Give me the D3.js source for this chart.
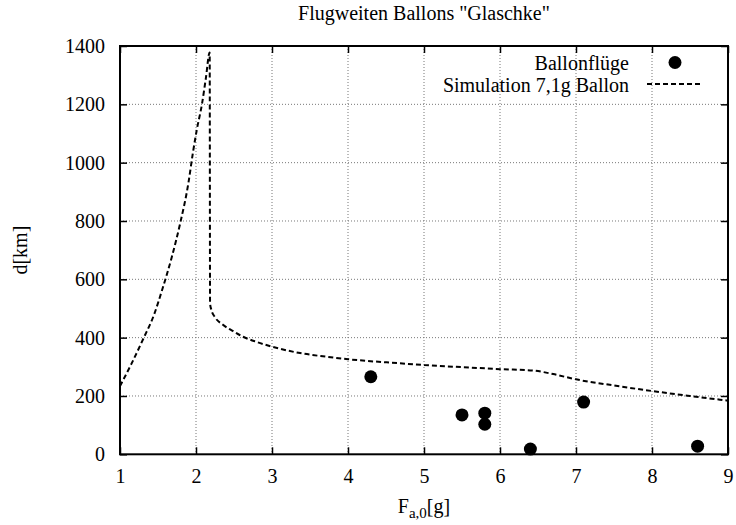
<!DOCTYPE html>
<html><head><meta charset="utf-8">
<script src="https://cdn.jsdelivr.net/npm/d3@7"></script>
</head><body style="margin:0">
<svg id="c" width="736" height="525" font-family="Liberation Serif"></svg>
<script>
const chartTitle = 'Flugweiten Ballons "Glaschke"';
const xTicks = [1,2,3,4,5,6,7,8,9];
const yTicks = [0,200,400,600,800,1000,1200,1400];
const flightX = [4.3, 5.5, 5.8, 5.8, 6.4, 7.1, 8.6];
const flightY = [266, 135, 141, 103, 18, 179, 28];
const simX = [1,1.15,1.31,1.45,1.55,1.68,1.79,1.90,1.96,2.01,2.08,2.13,2.18,2.185,2.2,2.25,2.35,2.49,2.62,2.8,3,3.37,3.7,4,4.68,5,5.5,6,6.44,6.7,7,7.5,8,8.5,9];
const simY = [234,310,398,480,560,675,790,930,1035,1112,1203,1290,1378,518,497,470,445,422,403,385,369,347,335,326,312,306,299,292,287,275,257,236,217,200,184];
const legendNames = ["Ballonflüge","Simulation 7,1g Ballon"];

const FONT = '"Liberation Serif"';
const svg = d3.select("#c");
const L=120, R=728, T=46, B=454.3;
const x = d3.scaleLinear().domain([1,9]).range([L,R]);
const y = d3.scaleLinear().domain([0,1400]).range([B,T]);
const fs = 20;
function txt(sel){ return sel.attr("font-family",FONT).style("font-family",FONT); }

// grid
const g = svg.append("g");
g.selectAll(".gx").data(xTicks.filter(v=>v>1&&v<9)).join("line")
 .attr("x1",d=>x(d)).attr("x2",d=>x(d)).attr("y1",T).attr("y2",B)
 .attr("stroke","#777").attr("stroke-width",1).attr("stroke-dasharray","1,2");
g.selectAll(".gy").data(yTicks.filter(v=>v>0&&v<1400)).join("line")
 .attr("y1",d=>y(d)).attr("y2",d=>y(d)).attr("x1",L).attr("x2",R)
 .attr("stroke","#777").attr("stroke-width",1).attr("stroke-dasharray","1,2");

// axes (ticks inward, mirrored)
const tl = 7;
const ax = svg.append("g").attr("transform",`translate(0,${B})`)
 .call(d3.axisBottom(x).tickValues(xTicks).tickSize(-tl).tickPadding(tl+8).tickFormat(d3.format("d")));
const axT = svg.append("g").attr("transform",`translate(0,${T})`)
 .call(d3.axisTop(x).tickValues(xTicks).tickSize(-tl).tickFormat(""));
const ay = svg.append("g").attr("transform",`translate(${L},0)`)
 .call(d3.axisLeft(y).tickValues(yTicks).tickSize(-tl).tickPadding(tl+8).tickFormat(d3.format("d")));
const ayR = svg.append("g").attr("transform",`translate(${R},0)`)
 .call(d3.axisRight(y).tickValues(yTicks).tickSize(-tl).tickFormat(""));
[ax,axT,ay,ayR].forEach(a=>{
  txt(a).attr("font-size",fs);
  a.select(".domain").remove();
  a.selectAll(".tick line").attr("stroke","#000").attr("stroke-width",1.5);
  txt(a.selectAll("text")).attr("font-size",fs).attr("fill","#000");
});
svg.append("rect").attr("x",L).attr("y",T).attr("width",R-L).attr("height",B-T)
 .attr("fill","none").attr("stroke","#000").attr("stroke-width",2);

// simulation curve
const idx = d3.range(simX.length);
const line = d3.line().x(i=>x(simX[i])).y(i=>y(simY[i])).curve(d3.curveMonotoneX);
svg.append("path").attr("d",line(idx)).attr("fill","none").attr("stroke","#000")
 .attr("stroke-width",2).attr("stroke-dasharray","5,3");

// flights
svg.selectAll(".pt").data(d3.range(flightX.length)).join("circle")
 .attr("cx",i=>x(flightX[i])).attr("cy",i=>y(flightY[i])).attr("r",6.5).attr("fill","#000");

// legend
txt(svg.append("text")).attr("x",629).attr("y",70).attr("text-anchor","end").attr("font-size",fs).text(legendNames[0]);
svg.append("circle").attr("cx",675).attr("cy",62.5).attr("r",6.5).attr("fill","#000");
txt(svg.append("text")).attr("x",629).attr("y",92).attr("text-anchor","end").attr("font-size",fs).text(legendNames[1]);
svg.append("line").attr("x1",647).attr("x2",702).attr("y1",84).attr("y2",84)
 .attr("stroke","#000").attr("stroke-width",2).attr("stroke-dasharray","5,3");

// title & labels
txt(svg.append("text")).attr("x",(L+R)/2).attr("y",20).attr("text-anchor","middle").attr("font-size",fs).text(chartTitle);
const xl = txt(svg.append("text")).attr("x",(L+R)/2).attr("y",513).attr("text-anchor","middle").attr("font-size",fs);
xl.append("tspan").text("F");
xl.append("tspan").attr("dy",5).attr("font-size",15).text("a,0");
xl.append("tspan").attr("dy",-5).text("[g]");
txt(svg.append("text")).attr("transform",`translate(27,${(T+B)/2}) rotate(-90)`).attr("text-anchor","middle").attr("font-size",fs).text("d[km]");
</script>
</body></html>
